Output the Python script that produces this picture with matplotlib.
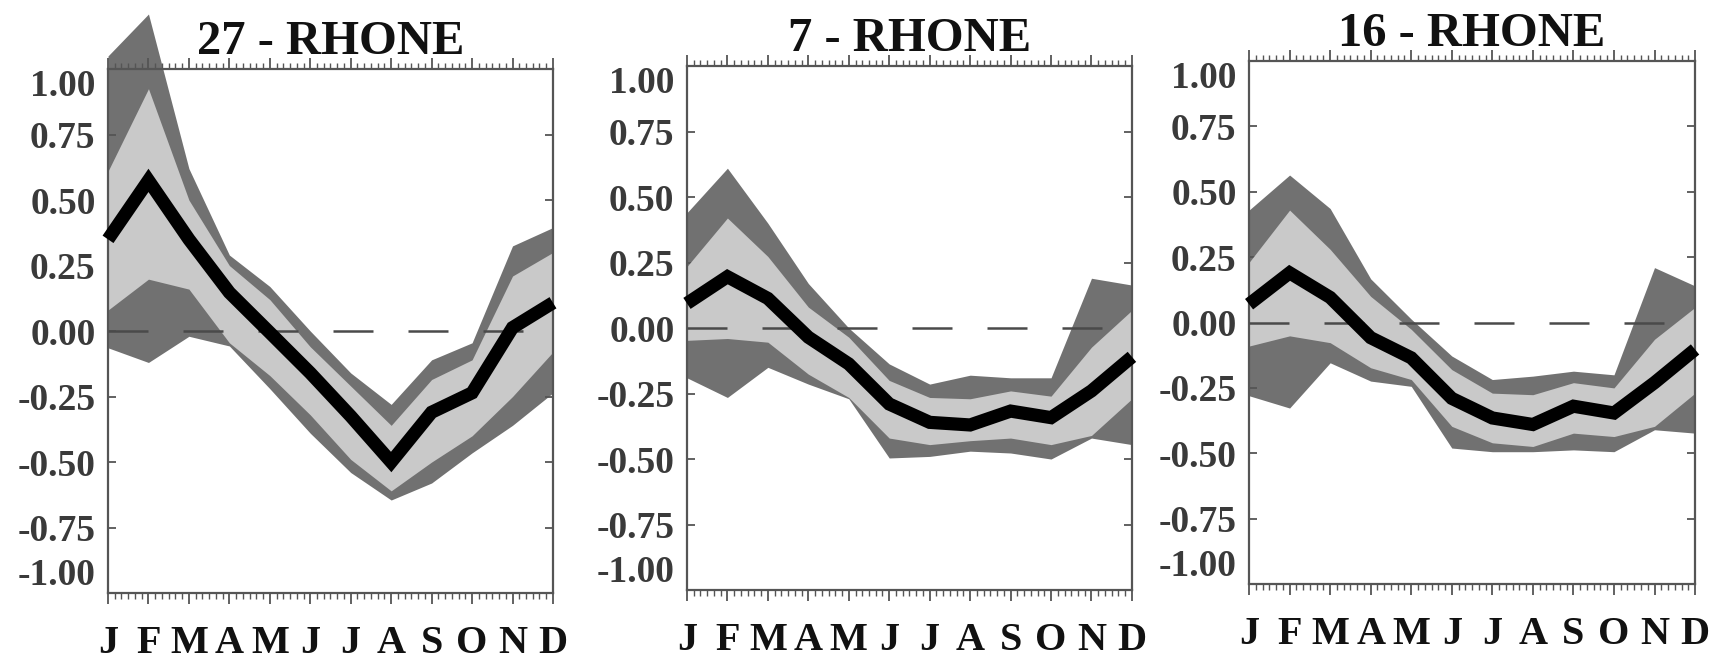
import numpy as np
import matplotlib
matplotlib.use("Agg")
import matplotlib.pyplot as plt
from matplotlib.ticker import MultipleLocator

# Mois (abscisse)
months = ["J", "F", "M", "A", "M", "J", "J", "A", "S", "O", "N", "D"]

# Panneau 1 : 27 - RHONE
p27_dark_hi = [1.05, 1.21, 0.62, 0.29, 0.17, 0.00, -0.16, -0.28, -0.11, -0.045, 0.325, 0.395]
p27_light_hi = [0.61, 0.925, 0.50, 0.25, 0.12, -0.06, -0.21, -0.36, -0.185, -0.11, 0.21, 0.30]
p27_mean = [0.35, 0.575, 0.35, 0.147, -0.006, -0.16, -0.325, -0.50, -0.31, -0.236, 0.013, 0.108]
p27_light_lo = [0.08, 0.198, 0.16, -0.045, -0.17, -0.32, -0.49, -0.61, -0.50, -0.40, -0.25, -0.08]
p27_dark_lo = [-0.064, -0.12, -0.02, -0.057, -0.22, -0.39, -0.54, -0.645, -0.58, -0.465, -0.36, -0.236]

# Panneau 2 : 7 - RHONE
p7_dark_hi = [0.44, 0.61, 0.40, 0.17, 0.0, -0.137, -0.214, -0.18, -0.19, -0.19, 0.19, 0.164]
p7_light_hi = [0.235, 0.42, 0.273, 0.08, -0.035, -0.20, -0.265, -0.27, -0.24, -0.26, -0.073, 0.068]
p7_mean = [0.094, 0.196, 0.113, -0.035, -0.137, -0.29, -0.36, -0.37, -0.317, -0.342, -0.24, -0.11]
p7_light_lo = [-0.047, -0.04, -0.054, -0.176, -0.265, -0.42, -0.445, -0.43, -0.42, -0.445, -0.41, -0.27]
p7_dark_lo = [-0.19, -0.265, -0.15, -0.214, -0.27, -0.496, -0.49, -0.47, -0.477, -0.50, -0.42, -0.445]

# Panneau 3 : 16 - RHONE
p16_dark_hi = [0.43, 0.564, 0.436, 0.167, 0.013, -0.128, -0.218, -0.205, -0.186, -0.20, 0.21, 0.14]
p16_light_hi = [0.23, 0.43, 0.28, 0.10, -0.026, -0.18, -0.27, -0.276, -0.23, -0.25, -0.064, 0.058]
p16_mean = [0.07, 0.19, 0.096, -0.058, -0.135, -0.29, -0.365, -0.39, -0.32, -0.346, -0.23, -0.103]
p16_light_lo = [-0.09, -0.051, -0.077, -0.173, -0.218, -0.397, -0.46, -0.474, -0.423, -0.436, -0.397, -0.27]
p16_dark_lo = [-0.28, -0.327, -0.154, -0.224, -0.244, -0.48, -0.494, -0.494, -0.487, -0.494, -0.41, -0.423]

titles = ["27 - RHONE", "7 - RHONE", "16 - RHONE"]
y_ticks = [-1.0, -0.75, -0.5, -0.25, 0.0, 0.25, 0.5, 0.75, 1.0]

panels = [
    (p27_dark_lo, p27_dark_hi, p27_light_lo, p27_light_hi, p27_mean),
    (p7_dark_lo, p7_dark_hi, p7_light_lo, p7_light_hi, p7_mean),
    (p16_dark_lo, p16_dark_hi, p16_light_lo, p16_light_hi, p16_mean),
]

# positions des axes (fraction de la figure)
axes_rects = [
    [0.0628, 0.1109, 0.2587, 0.7856],
    [0.3994, 0.1154, 0.2587, 0.7856],
    [0.7262, 0.1244, 0.2593, 0.7841],
]

plt.rcParams["font.family"] = ["Liberation Serif", "DejaVu Serif"]
plt.rcParams["font.weight"] = "bold"

DARK = "#717171"
LIGHT = "#c9c9c9"
AXC = "#555555"

fig = plt.figure(figsize=(17.2, 6.67), dpi=100)

for rect, title, (dlo, dhi, llo, lhi, mean) in zip(axes_rects, titles, panels):
    ax = fig.add_axes(rect)
    x = np.arange(len(months))

    ax.fill_between(x, dlo, dhi, color=DARK, linewidth=0, clip_on=False, zorder=1)
    ax.fill_between(x, llo, lhi, color=LIGHT, linewidth=0, clip_on=False, zorder=2)
    ax.axhline(0, color="#4a4a4a", linewidth=1.8, linestyle=(0, (16, 14)), zorder=3)
    ax.plot(x, mean, color="black", linewidth=9.5, solid_joinstyle="miter",
            solid_capstyle="butt", clip_on=False, zorder=4)

    ax.set_xlim(0, 11)
    ax.set_ylim(-1, 1)

    ax.set_xticks(x)
    ax.set_xticklabels(months)
    ax.xaxis.set_minor_locator(MultipleLocator(1 / 6))
    ax.tick_params(axis="x", which="major", direction="out", length=8, width=1.3,
                   top=True, bottom=True, colors=AXC, labelcolor="#111111",
                   labelsize=29, pad=15)
    ax.tick_params(axis="x", which="minor", direction="out", length=4, width=1,
                   top=True, bottom=True, colors=AXC)

    ax.set_yticks(y_ticks)
    ax.set_yticklabels([f"{v:.2f}" for v in y_ticks])
    ax.tick_params(axis="y", which="major", direction="in", length=6, width=1.3,
                   left=True, right=True, colors=AXC, labelcolor="#3a3a3a",
                   labelsize=27, pad=9)
    ylabels = ax.get_yticklabels()
    ylabels[0].set_va("bottom")
    ylabels[-1].set_va("top")

    for side in ["left", "right", "top", "bottom"]:
        ax.spines[side].set_color(AXC)
        ax.spines[side].set_linewidth(1.6)

    ax.set_title(title, fontsize=35, fontweight="bold", color="#111111", pad=11)

fig.savefig("out.png", dpi=100)
